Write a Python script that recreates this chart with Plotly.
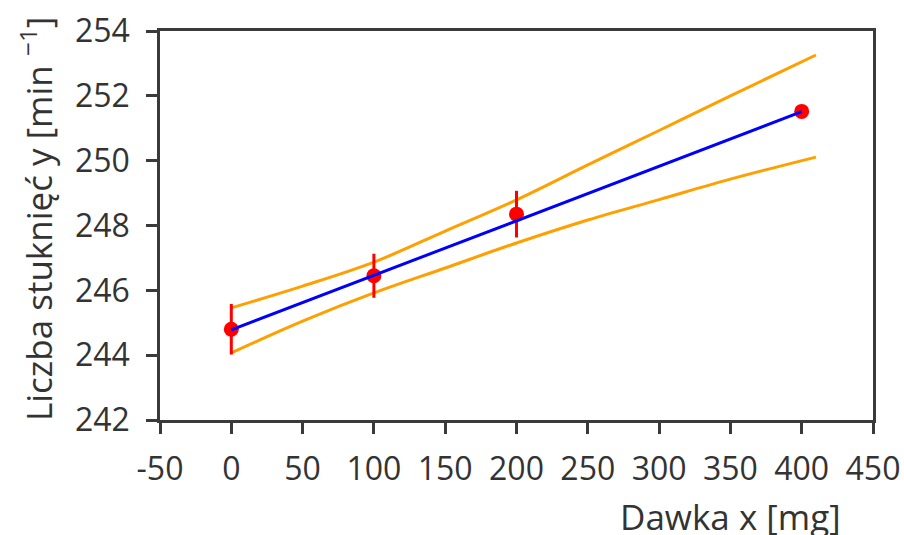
import plotly.graph_objects as go

# Measured data points
dose = [0, 100, 200, 400]
taps = [244.80, 246.45, 248.35, 251.52]
taps_err = [0.78, 0.68, 0.72, 0.0]

# Fitted regression line (end points)
fit_x = [0, 400]
fit_y = [244.78, 251.51]

# Confidence band
band_x = [0, 50, 100, 150, 200, 250, 300, 350, 410]
band_upper = [245.46, 246.13, 246.87, 247.83, 248.79, 249.87, 250.93, 252.00, 253.26]
band_lower = [244.07, 245.05, 245.92, 246.69, 247.46, 248.17, 248.80, 249.43, 250.11]

x_ticks = [-50, 0, 50, 100, 150, 200, 250, 300, 350, 400, 450]
y_ticks = [242, 244, 246, 248, 250, 252, 254]

FONT = "Open Sans"
AX = "#3a3a3a"
TXT = "#333333"

fig = go.Figure()
fig.add_trace(go.Scatter(x=band_x, y=band_upper, mode="lines", line=dict(color="#FFA000", width=3, shape="spline"), showlegend=False))
fig.add_trace(go.Scatter(x=band_x, y=band_lower, mode="lines", line=dict(color="#FFA000", width=3, shape="spline"), showlegend=False))
fig.add_trace(go.Scatter(x=dose, y=taps, mode="markers",
                         marker=dict(color="#FF0000", size=15),
                         error_y=dict(type="data", array=taps_err, color="#FF0000", thickness=3, width=0),
                         showlegend=False))
fig.add_trace(go.Scatter(x=fit_x, y=fit_y, mode="lines", line=dict(color="#0000FF", width=3), showlegend=False))

fig.update_layout(
    width=904, height=535,
    margin=dict(l=160, r=31, t=31, b=115, autoexpand=False),
    plot_bgcolor="white", paper_bgcolor="white",
    font=dict(family=FONT, size=32, color=TXT),
)
fig.update_xaxes(range=[-50, 450], tickvals=x_ticks, ticktext=[str(v) for v in x_ticks],
                 automargin=False, ticklabelstandoff=8,
                 showgrid=False, zeroline=False, showline=True, linecolor=AX, linewidth=2.5, mirror=True,
                 ticks="outside", ticklen=11, tickwidth=2.5, tickcolor=AX)
fig.update_yaxes(range=[242, 254], tickvals=y_ticks, ticktext=[str(v) for v in y_ticks],
                 automargin=False, ticklabelstandoff=10,
                 showgrid=False, zeroline=False, showline=True, linecolor=AX, linewidth=2.5, mirror=True,
                 ticks="outside", ticklen=11, tickwidth=2.5, tickcolor=AX)

fig.add_annotation(text="Dawka x [mg]", xref="paper", yref="paper", x=(843-160)/713, y=-(516-420)/389,
                   xanchor="right", yanchor="middle", showarrow=False, font=dict(family=FONT, size=35, color=TXT))
fig.add_annotation(text="Liczba stuknięć y [min <sup>−1</sup>]", xref="paper", yref="paper",
                   x=-(160-36)/713, y=(420-219)/389, textangle=-90,
                   xanchor="center", yanchor="middle", showarrow=False, font=dict(family=FONT, size=35, color=TXT))

fig.write_html("out.html")
